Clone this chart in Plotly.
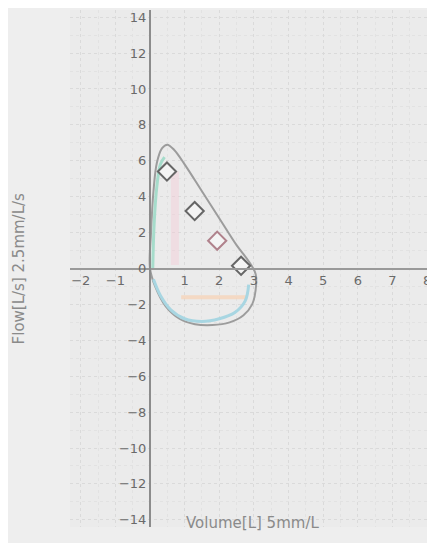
import plotly.graph_objects as go

# flow-volume loop (volume in L, flow in L/s)
loop_volume = [0.0, 0.03, 0.1, 0.2, 0.35, 0.5, 0.7, 1.0, 1.5, 2.0, 2.5, 2.85, 3.05,
               3.05, 2.95, 2.7, 2.3, 1.8, 1.3, 0.85, 0.45, 0.15, 0.0]
loop_flow = [0.0, 2.0, 4.3, 5.9, 6.7, 6.9, 6.6, 5.8, 4.3, 2.8, 1.3, 0.4, -0.3,
             -1.2, -2.0, -2.6, -3.0, -3.15, -3.1, -2.8, -2.1, -1.0, 0.0]

# coloured traces inside the loop
rise_volume = [0.08, 0.12, 0.2, 0.3, 0.42]
rise_flow = [0.0, 2.5, 4.6, 5.8, 6.2]
insp_volume = [2.85, 2.75, 2.45, 2.0, 1.5, 1.0, 0.6, 0.3, 0.1]
insp_flow = [-0.9, -1.8, -2.45, -2.8, -2.95, -2.8, -2.3, -1.5, -0.6]
band_volume = [0.9, 2.8]
band_flow = [-1.6, -1.6]
bar_volume = [0.72, 0.72]
bar_flow = [0.2, 5.4]

# measured points
pt_volume = [0.49, 1.29, 1.94, 2.63]
pt_flow = [5.4, 3.2, 1.55, 0.15]
pt_colors = ["#666666", "#666666", "#b0828c", "#666666"]

x_ticks = [-2, -1, 1, 2, 3, 4, 5, 6, 7, 8]
y_ticks = [14, 12, 10, 8, 6, 4, 2, 0, -2, -4, -6, -8, -10, -12, -14]

x_range = [-2.31, 8.23]
y_range = [-14.4, 14.4]

fig = go.Figure()
fig.add_trace(go.Scatter(x=bar_volume, y=bar_flow, mode="lines",
                         line=dict(color="rgba(245,200,212,0.4)", width=8)))
fig.add_trace(go.Scatter(x=band_volume, y=band_flow, mode="lines",
                         line=dict(color="rgba(248,210,180,0.7)", width=4)))
fig.add_trace(go.Scatter(x=loop_volume, y=loop_flow, mode="lines",
                         line=dict(color="#9c9c9c", width=2, shape="spline")))
fig.add_trace(go.Scatter(x=rise_volume, y=rise_flow, mode="lines",
                         line=dict(color="#a6dccb", width=3, shape="spline")))
fig.add_trace(go.Scatter(x=insp_volume, y=insp_flow, mode="lines",
                         line=dict(color="#a8d6e2", width=3, shape="spline")))
fig.add_trace(go.Scatter(x=pt_volume, y=pt_flow, mode="markers",
                         marker=dict(symbol="diamond", size=14, color="#f4f4f4",
                                     line=dict(color=pt_colors, width=2))))

# the page body keeps its default 8px margin, so the figure is 8px smaller
fig.update_layout(
    width=427, height=535,
    margin=dict(l=62, r=0, t=2, b=16),
    paper_bgcolor="#eeeeee", plot_bgcolor="#ebebeb",
    showlegend=False,
    font=dict(family="DejaVu Sans", size=13, color="#6a6a6a"),
    xaxis=dict(range=x_range, anchor="free", position=0.5, automargin=False,
               tickvals=x_ticks, ticks="", showline=True, linecolor="#999999",
               linewidth=2, zeroline=False,
               showgrid=True, gridcolor="#dadada", griddash="dot", dtick=1,
               minor=dict(dtick=0.5, showgrid=True, gridcolor="#e2e2e2")),
    yaxis=dict(range=y_range, anchor="free", automargin=False,
               position=(0 - x_range[0]) / (x_range[1] - x_range[0]),
               tickvals=y_ticks, ticks="", showline=True, linecolor="#8c8c8c",
               linewidth=2, zeroline=False,
               showgrid=True, gridcolor="#dadada", griddash="dot",
               minor=dict(dtick=1, showgrid=True, gridcolor="#e2e2e2")),
)

fig.add_annotation(text="Flow[L/s] 2.5mm/L/s", xref="paper", yref="paper",
                   x=-0.14, y=0.5, xanchor="center", yanchor="middle",
                   textangle=-90, showarrow=False,
                   font=dict(size=15, color="#8a8a8a"))
fig.add_annotation(text="Volume[L] 5mm/L", xref="paper", yref="paper",
                   x=0.5, y=0.0, xanchor="center", yanchor="middle", yshift=4,
                   showarrow=False, font=dict(size=15, color="#8a8a8a"))

fig.write_html("out.html")
